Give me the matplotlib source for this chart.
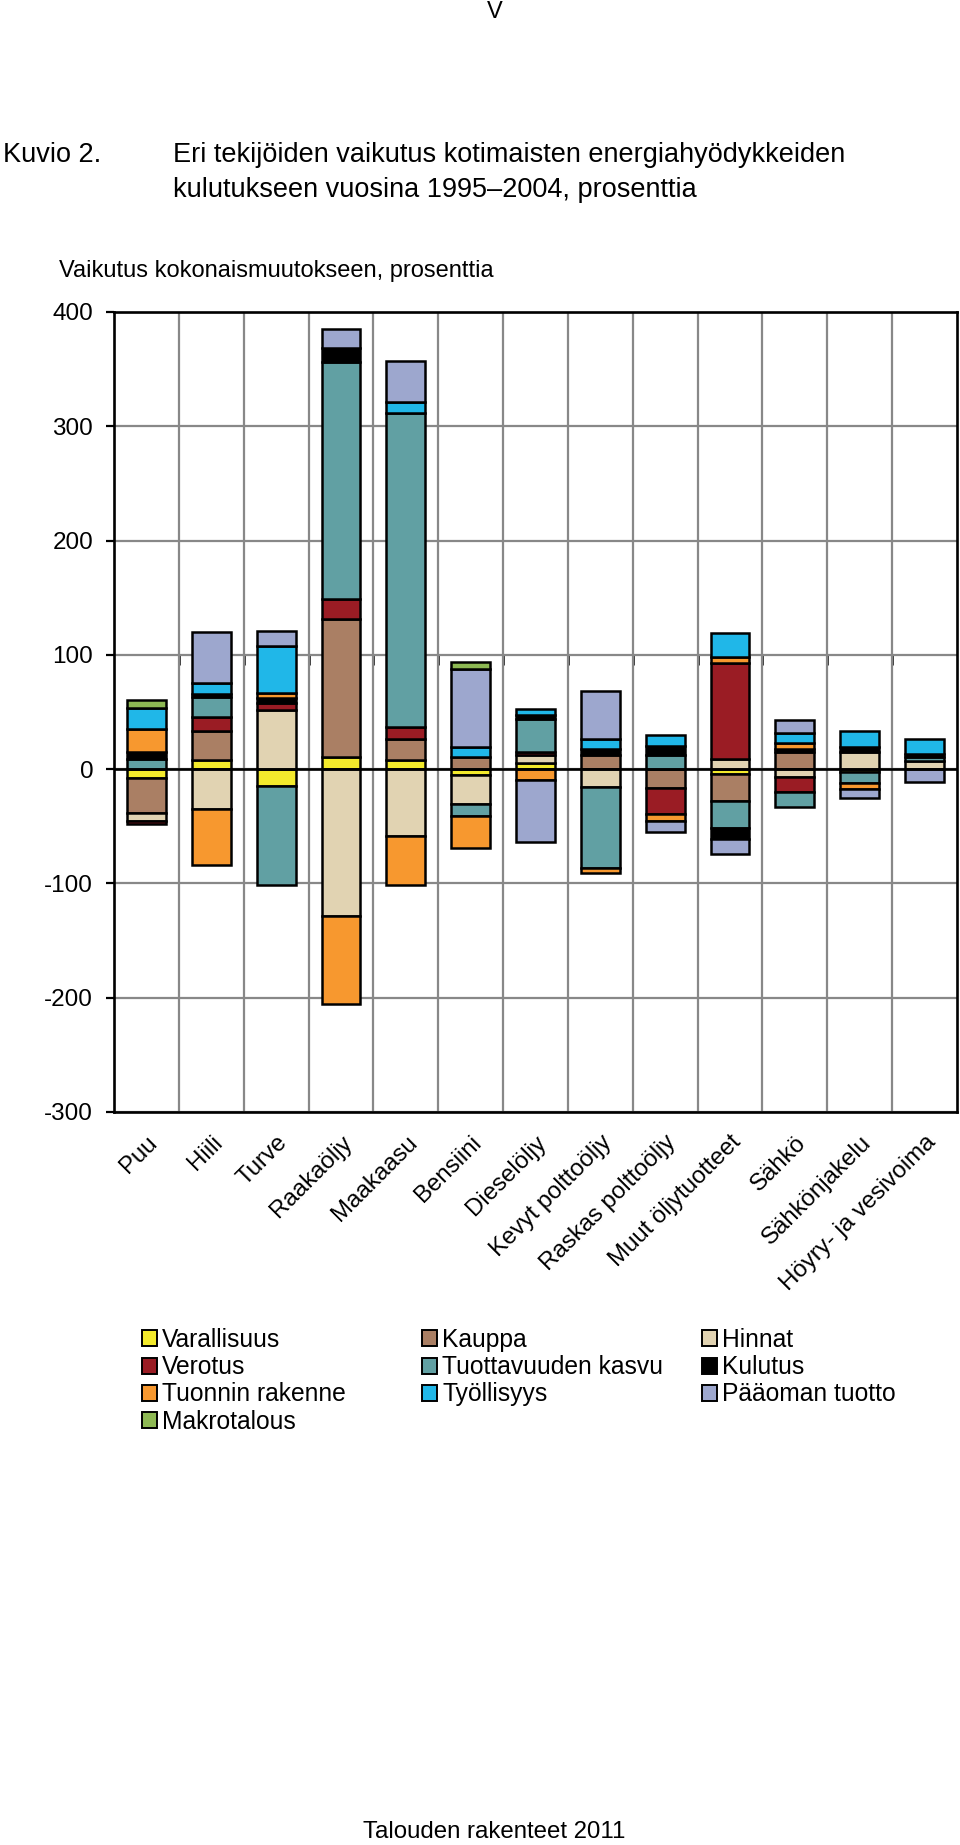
import numpy as np
import matplotlib
matplotlib.use('Agg')
import matplotlib.pyplot as plt
from matplotlib.patches import Patch

plt.rcParams['font.family'] = ['Liberation Sans', 'DejaVu Sans']
plt.rcParams['axes.unicode_minus'] = False

categories = ['Puu', 'Hiili', 'Turve', 'Raakaöljy', 'Maakaasu', 'Bensiini',
              'Dieselöljy', 'Kevyt polttoöljy', 'Raskas polttoöljy',
              'Muut öljytuotteet', 'Sähkö', 'Sähkönjakelu', 'Höyry- ja vesivoima']

#               Puu    Hiili  Turve   Raaka   Maak   Bens   Dies  Kevyt  Rask   Muut   Sähkö  Sjak  Höyry
varallisuus  = [-8.0,   8.0, -14.6,   11.0,   8.2,  -5.2,   5.0,   0.0,   0.0,  -4.4,   0.0,  -2.3,  0.0]
kauppa       = [-30.3, 25.5,   0.0,  120.0,  18.6,  10.2,   0.0,  12.2, -16.9, -23.9,  14.6,   0.0,  0.0]
hinnat       = [-6.7, -35.0,  51.6, -128.3, -58.3, -25.0,   7.0, -16.0,   0.0,   8.7,  -7.3,  14.6,  7.3]
verotus      = [-3.0,  12.2,   6.0,   17.5,  10.2,   0.0,   3.0,   0.0, -22.5,  84.6, -12.5,   0.0,  0.0]
tuottavuus   = [ 9.3,  17.0, -87.0,  208.0, 275.0, -10.5,  29.0, -70.9,  12.2, -23.6, -13.7,  -9.4,  3.2]
kulutus      = [ 6.0,   3.0,   4.4,   12.0,   0.0,   0.0,   3.0,   5.3,   8.2,  -9.3,   2.9,   4.4,  3.0]
tuonnin      = [20.0, -49.0,   4.4,  -77.2, -42.9, -28.7,  -9.5,  -4.3,  -5.8,   5.0,   5.2,  -5.8,  0.0]
tyollisyys   = [18.4,   9.3,  41.4,    0.0,   9.3,   9.6,   5.5,   9.3,   9.3,  20.7,   9.3,  14.5, 12.7]
paaoma       = [ 0.0,  45.0,  13.0,   16.5,  35.8,  68.0, -54.0,  41.4,  -9.6, -13.1,  10.6,  -7.9, -11.0]
makrotalous  = [ 7.0,   0.0,   0.0,    0.0,   0.0,   6.0,   0.0,   0.0,   0.0,   0.0,   0.0,   0.0,  0.0]

series_names = ['Varallisuus', 'Kauppa', 'Hinnat', 'Verotus', 'Tuottavuuden kasvu',
                'Kulutus', 'Tuonnin rakenne', 'Työllisyys', 'Pääoman tuotto', 'Makrotalous']
series_values = [varallisuus, kauppa, hinnat, verotus, tuottavuus, kulutus,
                 tuonnin, tyollisyys, paaoma, makrotalous]
series_colors = ['#F3EA2C', '#AA7F64', '#E1D3B2', '#9A1C24', '#61A0A3',
                 '#000000', '#F7982F', '#20B7E8', '#9DA7CE', '#8DB853']

yticks = [-300, -200, -100, 0, 100, 200, 300, 400]
ytick_labels = ['-300', '-200', '-100', '0', '100', '200', '300', '400']

W, H = 960, 1845
fig = plt.figure(figsize=(W / 100, H / 100), dpi=100)
ax = fig.add_axes([114 / W, 1 - 1112 / H, (957 - 114) / W, (1112 - 312) / H])

n = len(categories)
x = np.arange(n)
pos = np.zeros(n)
neg = np.zeros(n)
handles = []
for vals, col, name in zip(series_values, series_colors, series_names):
    v = np.array(vals, dtype=float)
    bottom = np.where(v >= 0, pos, neg)
    m = v != 0
    ax.bar(x[m], v[m], bottom=bottom[m], width=0.6, color=col,
           edgecolor='black', linewidth=1.8, zorder=3)
    pos += np.where(v > 0, v, 0)
    neg += np.where(v < 0, v, 0)
    handles.append(Patch(facecolor=col, edgecolor='black', linewidth=1.4, label=name))

ax.set_xlim(-0.5, n - 0.5)
ax.set_ylim(-300, 400)

# grid
boundaries = np.arange(n + 1) - 0.5
ax.set_xticks(boundaries[1:-1], minor=True)
ax.set_xticks(x, categories)
ax.set_yticks(yticks, ytick_labels)
ax.grid(which='minor', axis='x', color='#888888', linewidth=1.6, zorder=0)
ax.grid(which='major', axis='y', color='#888888', linewidth=1.6, zorder=0)
ax.grid(which='major', axis='x', visible=False)
ax.set_axisbelow(True)

for s in ax.spines.values():
    s.set_color('black')
    s.set_linewidth(1.9)
    s.set_zorder(5)

ax.tick_params(axis='y', length=6, width=1.6, direction='out', pad=9,
               labelsize=17.5, colors='black')
ax.tick_params(axis='x', which='both', length=0, pad=14, labelsize=17.3)
for lbl in ax.get_xticklabels():
    lbl.set_rotation(45)
    lbl.set_ha('right')
    lbl.set_va('top')
    lbl.set_rotation_mode('anchor')

# zero line with boundary tick marks
ax.axhline(0, color='black', linewidth=1.9, zorder=4)
sec = ax.secondary_xaxis(4 / 7)
sec.set_alignment('bottom')
sec.set_xticks(boundaries[1:-1])
sec.tick_params(axis='x', direction='out', length=7, width=1.8, color='black',
                labelbottom=False, labeltop=False)
for s in sec.spines.values():
    s.set_visible(False)

# legend in three columns (row-wise order)
cols = [[0, 3, 6, 9], [1, 4, 7], [2, 5, 8]]
col_x = [142, 422, 702]
for idx, cx in zip(cols, col_x):
    leg = fig.legend([handles[i] for i in idx], [series_names[i] for i in idx],
                     loc='upper left', bbox_to_anchor=(cx / W, 1 - 1328 / H),
                     bbox_transform=fig.transFigure, frameon=False,
                     borderpad=0, borderaxespad=0, handletextpad=0.2,
                     handlelength=0.62, handleheight=0.62, labelspacing=0.13,
                     fontsize=17.7)

# texts
fig.text(495 / W, 1 - 12 / H, 'V', ha='center', va='center', fontsize=17)
fig.text(3 / W, 1 - 162 / H, 'Kuvio 2.', ha='left', va='baseline', fontsize=19.5)
fig.text(173 / W, 1 - 162 / H, 'Eri tekijöiden vaikutus kotimaisten energiahyödykkeiden',
         ha='left', va='baseline', fontsize=19.5)
fig.text(173 / W, 1 - 197 / H, 'kulutukseen vuosina 1995–2004, prosenttia',
         ha='left', va='baseline', fontsize=19.5)
fig.text(59 / W, 1 - 277 / H, 'Vaikutus kokonaismuutokseen, prosenttia',
         ha='left', va='baseline', fontsize=17)
fig.text(494 / W, 1 - 1838 / H, 'Talouden rakenteet 2011', ha='center',
         va='baseline', fontsize=17.3)

fig.savefig('out.png', dpi=100)
